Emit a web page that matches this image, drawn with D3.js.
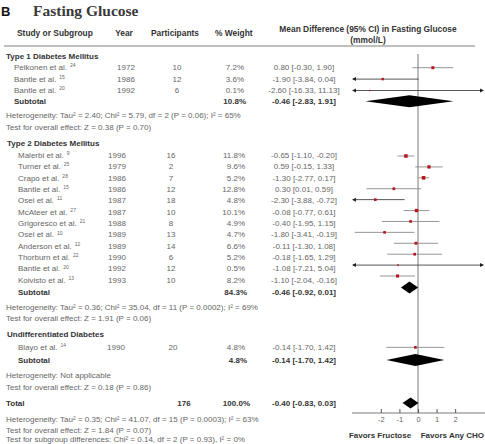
<!DOCTYPE html>
<html><head><meta charset="utf-8">
<script src="https://cdn.jsdelivr.net/npm/d3@7"></script>
<style>body{margin:0;background:#fff}svg{display:block}</style>
</head><body><svg id="c" width="485" height="444"></svg>
<script>
// ---------- data ----------
const groupNames = ["Type 1 Diabetes Mellitus", "Type 2 Diabetes Mellitus", "Undifferentiated Diabetes"];
const studyGroup = [0,0,0, 1,1,1,1,1,1,1,1,1,1,1,1, 2];
const studyNames = ["Pelkonen et al.","Bantle et al.","Bantle et al.","Malerbi et al.","Turner et al.","Crapo et al.","Bantle et al.","Osei et al.","McAteer et al.","Grigoresco et al.","Osei et al.","Anderson et al.","Thorburn et al.","Bantle et al.","Koivisto et al.","Blayo et al."];
const studyRefs = ["24","15","20","9","25","28","15","11","27","21","10","12","22","20","13","14"];
const years = [1972,1986,1992,1996,1979,1986,1986,1987,1987,1988,1989,1989,1990,1992,1993,1990];
const participants = [10,12,6,16,2,7,12,18,10,8,13,14,6,12,10,20];
const weights = [7.2,3.6,0.1,11.8,9.6,5.2,12.8,4.8,10.1,4.9,4.7,6.6,5.2,0.5,8.2,4.8];
const md = [0.80,-1.90,-2.60,-0.65,0.59,-1.30,0.30,-2.30,-0.08,-0.40,-1.80,-0.11,-0.18,-1.08,-1.10,-0.14];
const lo = [-0.30,-3.84,-16.33,-1.10,-0.15,-2.77,0.01,-3.88,-0.77,-1.95,-3.41,-1.30,-1.65,-7.21,-2.04,-1.70];
const hi = [1.90,0.04,11.13,-0.20,1.33,0.17,0.59,-0.72,0.61,1.15,-0.19,1.08,1.29,5.04,-0.16,1.42];
// marks as drawn in the plot (rows 6 and 7 appear swapped in the original figure)
const markMd = [0.80,-1.90,-2.60,-0.65,0.59,0.30,-1.30,-2.30,-0.08,-0.40,-1.80,-0.11,-0.18,-1.08,-1.10,-0.14];
const markLo = [-0.30,-3.84,-16.33,-1.10,-0.15,0.01,-2.77,-3.88,-0.77,-1.95,-3.41,-1.30,-1.65,-7.21,-2.04,-1.70];
const markHi = [1.90,0.04,11.13,-0.20,1.33,0.59,0.17,-0.72,0.61,1.15,-0.19,1.08,1.29,5.04,-0.16,1.42];
const markWeight = [7.2,3.6,0.1,11.8,9.6,12.8,5.2,4.8,10.1,4.9,4.7,6.6,5.2,0.5,8.2,4.8];

const subWeight = ["10.8%","84.3%","4.8%"];
const subMd = [-0.46,-0.46,-0.14];
const subLo = [-2.83,-0.92,-1.70];
const subHi = [1.91,0.01,1.42];
const hetText = ["Heterogeneity: Tau² = 2.40; Chi² = 5.79, df = 2 (P = 0.06); I² = 65%",
                 "Heterogeneity: Tau² = 0.36; Chi² = 35.04, df = 11 (P = 0.0002); I² = 69%",
                 "Heterogeneity: Not applicable"];
const testText = ["Test for overall effect: Z = 0.38 (P = 0.70)",
                  "Test for overall effect: Z = 1.91 (P = 0.06)",
                  "Test for overall effect: Z = 0.18 (P = 0.86)"];
const totalParticipants = 176, totalWeight = "100.0%";
const totalMd = -0.40, totalLo = -0.83, totalHi = 0.03;
const footer = ["Heterogeneity: Tau² = 0.35; Chi² = 41.07, df = 15 (P = 0.0003); I² = 63%",
                "Test for overall effect: Z = 1.84 (P = 0.07)",
                "Test for subgroup differences: Chi² = 0.14, df = 2 (P = 0.93), I² = 0%"];
const tickValues = [-2,-1,0,1,2];
const axisDomain = [-3.5, 3.5];

// ---------- layout ----------
const svg = d3.select("#c");
const FONT = "'Liberation Sans', Arial, sans-serif";
const grey = "#666", dark = "#333";
const fs = 8;
const f2 = v => d3.format(".2f")(v).replace("\u2212", "-");
const ci = (m,l,h) => `${f2(m)} [${f2(l)}, ${f2(h)}]`;

const x = d3.scaleLinear().domain(axisDomain).range([353, 483]);
const colCfg = [
  {name:14, year:126, part:177, w:244, hStep:11.3, pitch:11.4, subStep:11.2, het:14, test:11.7},
  {name:18, year:117, part:171, w:245, hStep:12, pitch:11.36, subStep:12, het:15, test:11},
  {name:18, year:116, part:173, w:245, hStep:13, pitch:11.4, subStep:13, het:15, test:12}
];
const mdX = 304;

function txt(xp, y, s, o={}) {
  return svg.append("text").attr("x", xp).attr("y", y).attr("dy","0.35em")
    .attr("font-family", FONT).attr("font-size", o.size||fs)
    .attr("font-weight", o.bold?"bold":"normal")
    .attr("fill", o.fill || (o.bold?dark:grey))
    .attr("text-anchor", o.anchor||"start").text(s);
}

// title
svg.append("text").attr("x",1).attr("y",16).attr("font-family",FONT).attr("font-weight","bold")
  .attr("font-size",13).attr("fill","#111").text("B");
svg.append("text").attr("x",33).attr("y",16).attr("font-family","'Liberation Serif', 'DejaVu Serif', serif")
  .attr("font-weight","bold").attr("font-size",15.5).attr("fill","#3a3a3a").text("Fasting Glucose");

// headers
const hy = 33.5;
const hs = 8.4;
txt(17, hy, "Study or Subgroup", {bold:true, size:hs});
txt(124, hy, "Year", {bold:true, size:hs, anchor:"middle"});
txt(175, hy, "Participants", {bold:true, size:hs, anchor:"middle"});
txt(215, hy, "% Weight", {bold:true, size:hs});
txt(368, 29.5, "Mean Difference (95% CI) in Fasting Glucose", {bold:true, size:hs, anchor:"middle"});
txt(368, 40, "(mmol/L)", {bold:true, size:hs, anchor:"middle"});
svg.append("line").attr("x1",4).attr("x2",475).attr("y1",46).attr("y2",46)
  .attr("stroke","#aaa").attr("stroke-width",1.3);

// plot groups
const gPlot = svg.append("g");
const zeroTop = 54, axisY = 413;
gPlot.append("line").attr("x1",x(0)).attr("x2",x(0)).attr("y1",zeroTop).attr("y2",axisY)
  .attr("stroke","#555").attr("stroke-width",0.8);

function ciMark(y, m, l, h, w) {
  const [d0,d1] = x.domain();
  const x1 = x(Math.max(l,d0)), x2 = x(Math.min(h,d1));
  const arrow = (l<d0) || (h>d1);
  gPlot.append("line").attr("x1",x1).attr("x2",x2).attr("y1",y).attr("y2",y)
    .attr("stroke", arrow ? "#444" : "#8a8a8a").attr("stroke-width",0.9);
  if (l < d0) gPlot.append("path").attr("d",`M${x1-1},${y}L${x1+3},${y-2}L${x1+3},${y+2}Z`).attr("fill","#222");
  if (h > d1) gPlot.append("path").attr("d",`M${x2+1},${y}L${x2-3},${y-2}L${x2-3},${y+2}Z`).attr("fill","#222");
  const s = 1.1 + 0.7*Math.sqrt(w);
  gPlot.append("rect").attr("x",x(m)-s/2).attr("y",y-s/2).attr("width",s).attr("height",s).attr("fill","#b8141c");
}
function diamond(y, m, l, h, hh) {
  gPlot.append("path").attr("d",`M${x(l)},${y}L${x(m)},${y-hh}L${x(h)},${y}L${x(m)},${y+hh}Z`).attr("fill","#000");
}

let y = 56;
groupNames.forEach((gname, gi) => {
  const c = colCfg[gi];
  txt(gi===0?6:7, y, gname, {bold:true});
  const idx = d3.range(studyNames.length).filter(i => studyGroup[i]===gi);
  idx.forEach((i, k) => {
    y += (k===0 ? c.hStep : c.pitch);
    const t = txt(c.name, y, studyNames[i]);
    t.append("tspan").attr("font-size",5).attr("dx",3).attr("dy",-2.8).text(studyRefs[i]);
    txt(c.year, y, years[i], {anchor:"middle"});
    txt(c.part, y, participants[i], {anchor:"middle"});
    txt(c.w, y, weights[i].toFixed(1)+"%", {anchor:"end"});
    txt(mdX, y, ci(md[i], lo[i], hi[i]), {anchor:"middle"});
    const shift = gi===1 ? 1 - 0.45*k : 0.4;
    ciMark(y+shift, markMd[i], markLo[i], markHi[i], markWeight[i]);
  });
  y += c.subStep;
  txt(c.name, y, "Subtotal", {bold:true});
  txt(c.w+2, y, subWeight[gi], {bold:true, anchor:"end"});
  txt(mdX, y, ci(subMd[gi], subLo[gi], subHi[gi]), {bold:true, anchor:"middle"});
  const sshift = gi===1 ? 1 - 0.45*idx.length : 0;
  diamond(y+sshift, subMd[gi], subLo[gi], subHi[gi], 6);
  y += c.het;
  txt(6, y, hetText[gi]);
  y += c.test;
  txt(6, y, testText[gi]);
  y += 16;
});

// total
txt(6, y, "Total", {bold:true});
txt(184, y, totalParticipants, {bold:true, anchor:"middle"});
txt(250, y, totalWeight, {bold:true, anchor:"end"});
txt(mdX, y, ci(totalMd, totalLo, totalHi), {bold:true, anchor:"middle"});
diamond(y, totalMd, totalLo, totalHi, 5.5);
y += 16; txt(6, y, footer[0]);
y += 11; txt(6, y, footer[1]);
y += 9.3; txt(6, y, footer[2]);

// axis
const axis = d3.axisBottom(x).tickValues(tickValues).tickSizeInner(-4).tickSizeOuter(0)
  .tickPadding(4).tickFormat(d => String(d));
const ga = svg.append("g").attr("transform",`translate(0,${axisY})`).call(axis);
ga.select(".domain").attr("stroke","#555").attr("stroke-width",0.8).attr("d",`M352,0H485`);
ga.selectAll(".tick line").attr("stroke","#555");
ga.selectAll(".tick text").attr("font-family",FONT).attr("font-size",7.5).attr("fill",grey);
txt(380, 435, "Favors Fructose", {bold:true, anchor:"middle"});
txt(484, 435, "Favors Any CHO", {bold:true, anchor:"end"});
</script></body></html>
